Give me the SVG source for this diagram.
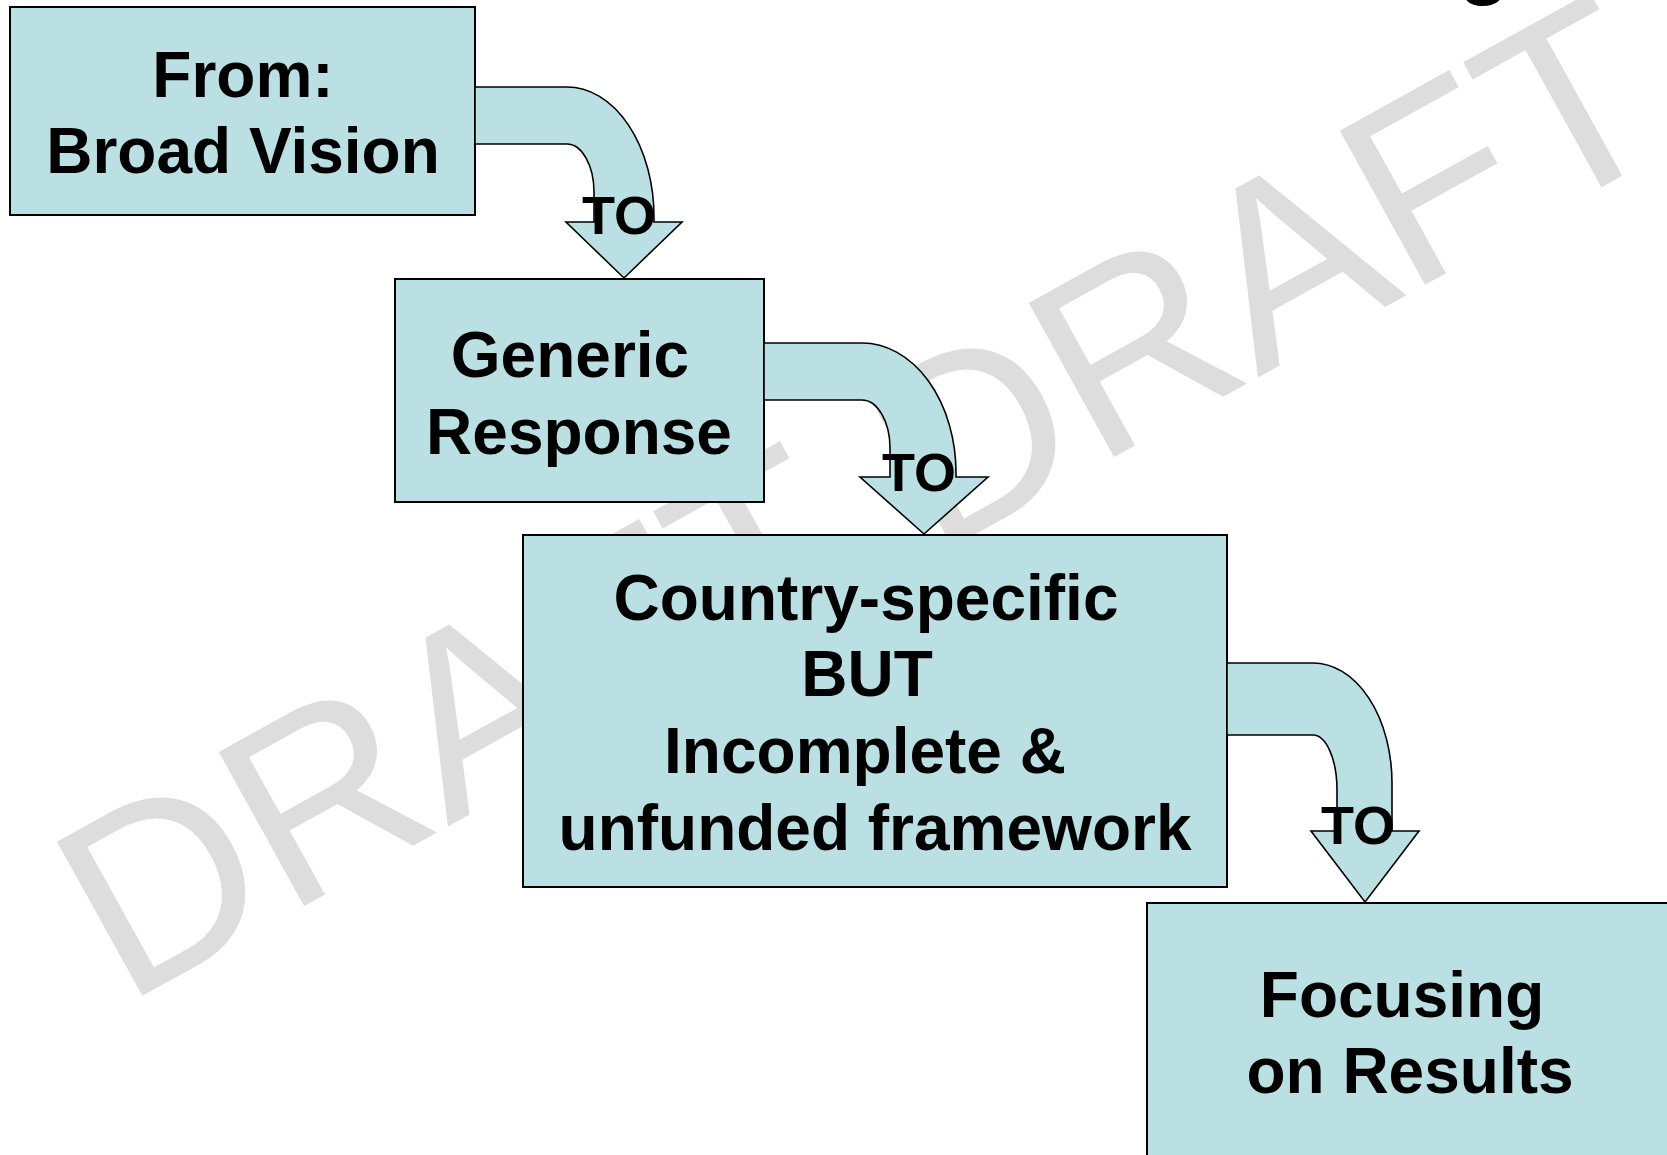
<svg xmlns="http://www.w3.org/2000/svg" width="1667" height="1155" viewBox="0 0 1667 1155">
<style>
.wm{font-family:"Liberation Sans",Arial,sans-serif;font-size:256px;fill:#DDDDDD}
.box{fill:#BBE0E3;stroke:#000;stroke-width:2}
.arr{fill:#BBE0E3;stroke:#000;stroke-width:1.6;stroke-linejoin:miter}
.t{font-family:"Liberation Sans",Arial,sans-serif;font-weight:bold;font-size:64px;fill:#000;text-anchor:middle}
.to{font-family:"Liberation Sans",Arial,sans-serif;font-weight:bold;font-size:54px;fill:#000;text-anchor:middle}
</style>
<rect width="1667" height="1155" fill="#fff"/>
<g id="watermark">
<text class="wm" transform="translate(124,1006) rotate(-29)">DRAFT</text>
<text class="wm" transform="translate(934,557) rotate(-29)">DRAFT</text>
</g>
<text x="1484" y="-11" style="font-family:'Liberation Sans',Arial,sans-serif;font-weight:bold;font-size:84px;text-anchor:middle">g</text>
<g id="node-broad-vision">
<rect class="box" x="10" y="7" width="465" height="208"/>
<text class="t" x="243" y="97">From:</text>
<text class="t" x="243" y="173">Broad Vision</text>
</g>
<g id="node-generic-response">
<rect class="box" x="395" y="279" width="369" height="223"/>
<text class="t" x="570" y="377">Generic</text>
<text class="t" x="579" y="454">Response</text>
</g>
<g id="node-country-specific">
<rect class="box" x="523" y="535" width="704" height="352"/>
<text class="t" x="866" y="620">Country-specific</text>
<text class="t" x="867" y="696">BUT</text>
<text class="t" x="865" y="773">Incomplete &amp;</text>
<text class="t" x="875" y="850">unfunded framework</text>
</g>
<g id="node-focusing">
<rect class="box" x="1147" y="903" width="526" height="300"/>
<text class="t" x="1402" y="1017">Focusing</text>
<text class="t" x="1410" y="1093">on Results</text>
</g>
<g id="connectors">
<path class="arr" d="M475,87 H567 A87,130 0 0 1 654,217 V222 H682 L624,278 L566,222 H594 V192 A27,48 0 0 0 567,144 H475 Z"/>
<text class="to" x="619" y="234">TO</text>
<path class="arr" d="M764,343 H862 A94,130 0 0 1 956,473 V477 H988 L924,534 L860,477 H890 V448 A28,48 0 0 0 862,400 H764 Z"/>
<text class="to" x="919" y="491">TO</text>
<path class="arr" d="M1227,663 H1313 A79,120 0 0 1 1392,783 V831 H1419 L1365,902 L1311,831 H1337 V790 A24,55 0 0 0 1313,735 H1227 Z"/>
<text class="to" x="1358" y="844">TO</text>
</g>
</svg>
